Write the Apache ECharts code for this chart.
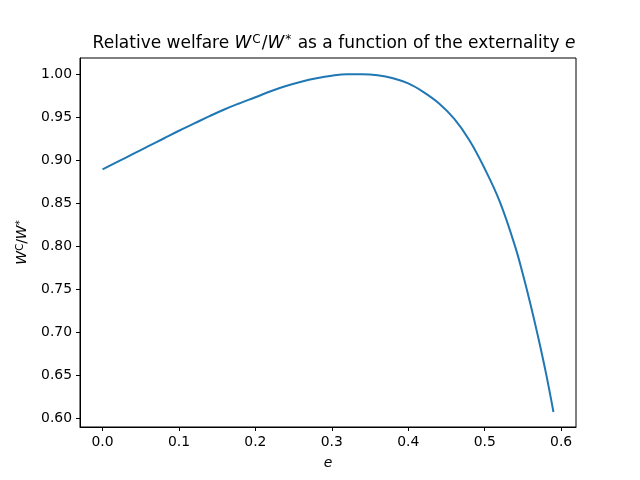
<!DOCTYPE html>
<html>
<head>
<meta charset="utf-8">
<script src="https://cdn.jsdelivr.net/npm/echarts@6/dist/echarts.min.js"></script>
<style>
  html, body { margin: 0; padding: 0; background: #fff; }
  #main { width: 640px; height: 480px; }
</style>
</head>
<body>
<div id="main"></div>
<script>
// values
var externality = [0, 0.02, 0.04, 0.06, 0.08, 0.10, 0.12, 0.14, 0.16, 0.18,
                   0.20, 0.22, 0.24, 0.26, 0.28, 0.30, 0.32, 0.34, 0.36, 0.38,
                   0.40, 0.42, 0.44, 0.46, 0.48, 0.50, 0.52, 0.54, 0.55, 0.56,
                   0.57, 0.58, 0.59];
var welfareRatio = [0.889, 0.898, 0.907, 0.916, 0.925, 0.934, 0.9425, 0.951, 0.959, 0.9662,
                    0.973, 0.980, 0.986, 0.991, 0.995, 0.998, 0.9997, 0.9998, 0.9985, 0.995,
                    0.989, 0.979, 0.966, 0.948, 0.923, 0.890, 0.851, 0.799, 0.767, 0.732,
                    0.694, 0.653, 0.607];
var xTicks = [0, 0.1, 0.2, 0.3, 0.4, 0.5, 0.6];
var yTicks = [0.60, 0.65, 0.70, 0.75, 0.80, 0.85, 0.90, 0.95, 1.00];

var font = 'DejaVu Sans';
var mathRich = {
  n: { fontFamily: font, fontSize: 17, color: '#000' },
  i: { fontFamily: font, fontSize: 17, fontStyle: 'italic', color: '#000' },
  s: { fontFamily: font, fontSize: 12, color: '#000', verticalAlign: 'top', padding: [0, 1, 7, 1] }
};
var axisRich = {
  i: { fontFamily: font, fontSize: 14, fontStyle: 'italic', color: '#000' },
  n: { fontFamily: font, fontSize: 14, color: '#000' },
  s: { fontFamily: font, fontSize: 10, color: '#000', verticalAlign: 'top', padding: [0, 0, 5, 0] }
};

var chart = echarts.init(document.getElementById('main'), null, { renderer: 'canvas' });
chart.setOption({
  animation: false,
  backgroundColor: '#fff',
  title: {
    text: '{n|Relative welfare }{i|W}{s|C}{n|/}{i|W}{s|*}{n| as a function of the externality }{i|e}',
    left: 329,
    textAlign: 'center',
    top: 29,
    textStyle: { fontWeight: 'normal', rich: mathRich }
  },
  grid: {
    left: 80, right: 64, top: 58, bottom: 53,
    show: true, borderColor: '#000', borderWidth: 1, backgroundColor: 'transparent'
  },
  xAxis: {
    type: 'value',
    min: -0.0295,
    max: 0.6195,
    name: '{i|e}',
    nameLocation: 'middle',
    nameGap: 29,
    nameTextStyle: { rich: axisRich },
    axisLine: { show: true, onZero: false, lineStyle: { color: '#000', width: 1 } },
    axisTick: { show: true, inside: false, length: 4, customValues: xTicks, lineStyle: { color: '#000' } },
    axisLabel: {
      customValues: xTicks, color: '#000', fontFamily: font, fontSize: 13.9, margin: 8,
      formatter: function (v) { return v.toFixed(1); }
    },
    splitLine: { show: false }
  },
  yAxis: {
    type: 'value',
    min: 0.5895,
    max: 1.0186,
    name: '{i|W}{s|C}{n|/}{i|W}{s|*}',
    nameLocation: 'middle',
    nameRotate: 90,
    nameGap: 50,
    nameTextStyle: { rich: axisRich },
    axisLine: { show: true, onZero: false, lineStyle: { color: '#000', width: 1 } },
    axisTick: { show: true, inside: false, length: 4, customValues: yTicks, lineStyle: { color: '#000' } },
    axisLabel: {
      customValues: yTicks, color: '#000', fontFamily: font, fontSize: 13.9, margin: 8,
      formatter: function (v) { return v.toFixed(2); }
    },
    splitLine: { show: false }
  },
  series: [{
    type: 'line',
    data: externality.map(function (e, k) { return [e, welfareRatio[k]]; }),
    smooth: 0.4,
    showSymbol: false,
    lineStyle: { color: '#1f77b4', width: 2 }
  }]
});
</script>
</body>
</html>
